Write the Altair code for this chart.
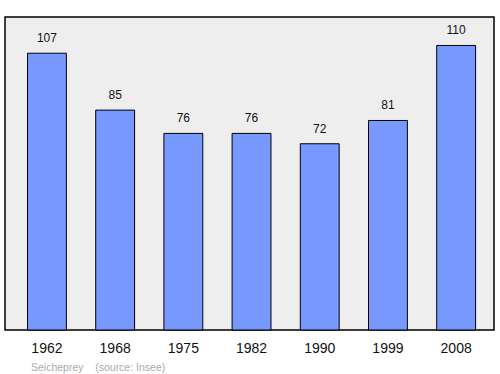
import altair as alt
import pandas as pd

years = ["1962", "1968", "1975", "1982", "1990", "1999", "2008"]
population = [107, 85, 76, 76, 72, 81, 110]

df = pd.DataFrame({"year": years, "pop": population})

x = alt.X("year:N", sort=years,
          scale=alt.Scale(paddingInner=0.43, paddingOuter=0.3, align=0.55),
          axis=alt.Axis(title=None, labelAngle=0, domain=False, ticks=False,
                        labelPadding=11, labelFontSize=14, labelColor="#111",
                        labelFont="Liberation Sans"))
y = alt.Y("pop:Q", scale=alt.Scale(domain=[0, 121], nice=False), axis=None)

bars = alt.Chart(df).mark_bar(color="#7799ff", stroke="#000", strokeWidth=1).encode(x=x, y=y)
labels = alt.Chart(df).mark_text(dy=-15, fontSize=12, font="Liberation Sans", color="#111").encode(
    x=x, y=y, text="pop:Q")

chart = (bars + labels).properties(
    width=489, height=313,
    autosize=alt.AutoSizeParams(type="none"),
    padding={"left": 5, "top": 17, "right": 6, "bottom": 44},
    title=alt.TitleParams("Seicheprey\u00a0\u00a0\u00a0\u00a0(source: Insee)", orient="bottom", anchor="start",
                          fontSize=10.5, fontWeight="normal", color="#aaa", font="Liberation Sans",
                          offset=8, dx=26),
).configure(background="white").configure_view(fill="#eeeeee", stroke="#000", strokeWidth=1.5)

chart.save("out.html", embed_options={"renderer": "svg", "actions": False})
